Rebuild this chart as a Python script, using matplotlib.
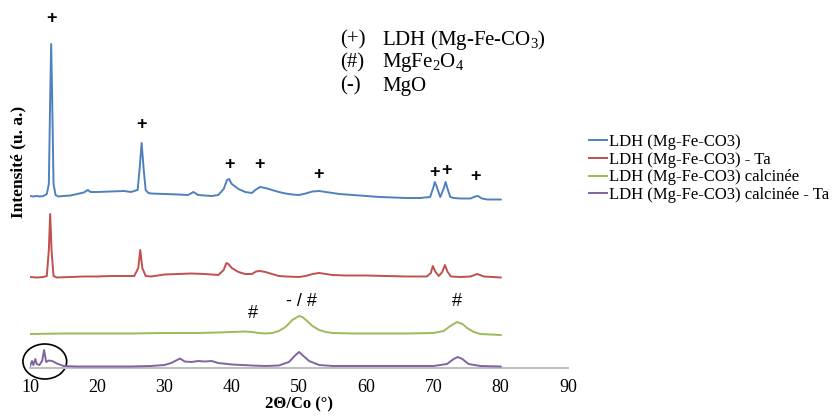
import matplotlib.pyplot as plt
from matplotlib.patches import Ellipse
import numpy as np
from matplotlib import rcParams

rcParams['font.family'] = 'serif'
rcParams['font.serif'] = ['Liberation Serif', 'DejaVu Serif']
rcParams['mathtext.fontset'] = 'custom'
rcParams['mathtext.rm'] = 'Liberation Serif'
rcParams['mathtext.it'] = 'Liberation Serif:italic'

### Diffractogrammes (2theta en deg, intensite en u.a.) ###
tt_ldh = [10.0, 10.5, 11.0, 11.5, 12.0, 12.5, 12.8, 13.0, 13.15, 13.3, 13.5, 13.8, 14.2, 15.0, 16.0, 17.0,
          18.0, 18.6, 19.0, 20.0, 22.0, 24.0, 25.0, 26.0, 26.3, 26.6, 26.9, 27.2, 27.6, 28.0, 30.0, 32.0,
          33.5, 34.3, 35.0, 36.0, 37.0, 38.0, 38.8, 39.3, 39.6, 40.0, 41.0, 42.0, 43.0, 43.5, 44.2, 45.0,
          46.0, 47.0, 48.0, 49.0, 50.0, 51.0, 52.0, 53.0, 54.0, 55.0, 56.0, 58.0, 60.0, 62.0, 64.0, 66.0,
          68.0, 69.5, 70.0, 70.2, 70.5, 71.0, 71.5, 71.8, 72.1, 72.5, 73.0, 74.0, 75.5, 76.2, 76.6, 77.2,
          78.0, 79.0, 80.0]
i_ldh = [1.0, 0.5, 1.0, 0.5, 1.0, 3.0, 13.0, 98.0, 153.0, 98.0, 13.0, 2.0, 0.5, 1.0, 1.5, 3.0,
         4.5, 7.0, 5.0, 5.0, 5.5, 6.0, 5.0, 7.0, 28.0, 54.0, 28.0, 7.0, 4.0, 3.5, 3.0, 2.5,
         2.0, 5.0, 2.0, 1.5, 1.0, 2.0, 8.0, 17.0, 18.0, 13.0, 8.0, 5.0, 4.0, 7.0, 10.0, 9.0,
         7.0, 5.0, 3.5, 2.5, 2.0, 3.5, 5.5, 6.0, 5.0, 4.0, 3.0, 2.0, 1.0, 0.0, -0.5, -1.0,
         -1.0, 0.0, 10.0, 15.0, 10.0, 0.0, 8.0, 15.0, 8.0, 0.0, -1.0, -1.5, -1.5, 0.5, 1.0, -1.5,
         -2.5, -2.5, -2.5]

tt_ta = [10.0, 11.0, 12.0, 12.5, 12.8, 13.0, 13.2, 13.5, 14.0, 16.0, 18.0, 20.0, 22.0, 24.0, 25.5, 26.1,
         26.4, 26.7, 27.2, 28.0, 30.0, 32.0, 34.0, 36.0, 38.0, 38.8, 39.2, 39.5, 40.0, 41.0, 42.0, 43.0,
         43.6, 44.2, 45.0, 46.0, 47.0, 48.0, 50.0, 51.0, 52.0, 53.0, 54.0, 55.0, 57.0, 60.0, 63.0, 66.0,
         69.0, 69.6, 69.9, 70.3, 70.8, 71.3, 71.7, 72.1, 72.6, 74.0, 75.5, 76.5, 77.5, 80.0]
i_ta = [0.0, -0.5, 0.0, 1.0, 27.0, 63.0, 27.0, 1.0, -0.5, 0.0, 0.5, 0.5, 1.0, 1.0, 1.0, 9.0,
        27.0, 9.0, 1.0, 0.5, 2.5, 3.0, 3.5, 3.0, 2.0, 7.0, 14.0, 13.0, 9.0, 5.0, 3.0, 3.0,
        5.5, 6.0, 5.0, 3.0, 1.0, 0.5, 0.0, 1.0, 3.0, 4.0, 3.0, 2.0, 1.5, 1.5, 1.0, 0.5,
        0.5, 4.0, 11.0, 5.0, 1.0, 5.0, 12.0, 5.0, 0.5, 0.0, 0.5, 3.0, 0.5, -0.5]

tt_calc = [10.0, 15.0, 20.0, 25.0, 30.0, 35.0, 38.0, 40.0, 42.0, 43.0, 44.0, 45.0, 46.0, 47.0, 48.0, 49.0,
           50.0, 50.5, 51.2, 52.0, 53.0, 54.0, 55.0, 58.0, 62.0, 66.0, 70.0, 71.5, 72.5, 73.5, 74.3, 75.0,
           76.0, 77.0, 80.0]
i_calc = [0.0, 0.5, 0.5, 0.5, 1.0, 1.0, 1.5, 2.0, 2.5, 2.0, 1.0, 0.5, 1.0, 3.0, 7.0, 14.0,
          18.0, 17.0, 13.0, 8.0, 4.0, 2.0, 1.0, 0.5, 0.5, 0.5, 1.0, 3.0, 8.0, 12.0, 10.0, 6.0,
          2.0, 0.0, -1.0]

tt_calc_ta = [10.0, 10.3, 10.5, 10.8, 11.0, 11.4, 11.8, 12.1, 12.4, 12.8, 13.3, 14.0, 15.0, 17.0, 20.0, 25.0,
              28.0, 30.0, 31.0, 32.3, 33.0, 34.0, 35.0, 36.0, 37.0, 38.0, 40.0, 43.0, 45.0, 47.0, 48.5, 49.5,
              50.0, 50.5, 51.5, 53.0, 55.0, 60.0, 65.0, 70.0, 72.0, 73.0, 73.6, 74.3, 75.2, 77.0, 80.0]
i_calc_ta = [1.0, 6.0, 2.0, 8.0, 3.0, 2.0, 6.0, 17.0, 5.0, 6.5, 6.0, 3.5, 1.0, 0.5, 0.5, 0.5,
             1.0, 2.0, 4.0, 8.5, 5.5, 5.0, 6.0, 5.5, 6.0, 4.0, 2.5, 1.5, 1.0, 1.5, 5.0, 12.0,
             15.0, 12.0, 6.0, 2.0, 1.0, 1.0, 1.0, 1.0, 3.0, 8.0, 10.0, 8.0, 3.0, 1.0, 0.5]

labels = ['LDH (Mg-Fe-CO3)', 'LDH (Mg-Fe-CO3) - Ta', 'LDH (Mg-Fe-CO3) calcinée', 'LDH (Mg-Fe-CO3) calcinée - Ta']
couleurs = ['#4F81BD', '#C0504D', '#9BBB59', '#8064A2']
decalages = [171, 91, 34, 1]   # décalage vertical de chaque courbe

### pics indexés ###
pics_plus = [13.2, 26.6, 39.7, 44.1, 52.9, 70.1, 72.0, 76.3]
h_plus = [350, 243, 203, 203, 193, 195, 197, 191]
pics_diese = [(43.2, 55, '#'), (50.3, 66, '- / #'), (73.5, 66, '#')]

fig = plt.figure(figsize=(8.37, 4.17), dpi=100)
ax = fig.add_axes([30/837, 49/417, 538/837, 358/417])

courbes = [(tt_ldh, i_ldh), (tt_ta, i_ta), (tt_calc, i_calc), (tt_calc_ta, i_calc_ta)]
for n in range(len(courbes)):
    x, y = courbes[n]
    ax.plot(x, np.array(y) + decalages[n], color=couleurs[n], lw=1.4, label=labels[n], zorder=3)

for p, h in zip(pics_plus, h_plus):
    ax.text(p, h, '+', ha='center', va='center', fontsize=13, family='Liberation Sans', fontweight='bold')
for p, h, s in pics_diese:
    ax.text(p, h, s, ha='center', va='center', fontsize=13, family='Liberation Sans')

# cercle autour des pics à bas angle
ax.add_patch(Ellipse((12.2, 6.5), 6.5, 35, fill=False, color='k', lw=1.2, clip_on=False))

ax.set_xlim(10, 90)
ax.set_ylim(0, 358)
ax.set_xticks(np.arange(10, 91, 10))
ax.set_yticks([])
for s in ['top', 'right', 'left']:
    ax.spines[s].set_visible(False)
ax.spines['bottom'].set_color('#BFBFBF')
ax.spines['bottom'].set_linewidth(1.5)
ax.tick_params(axis='x', length=0, pad=8, labelsize=13)
ax.set_xlabel('2Θ/Co (°)', fontweight='bold', fontsize=12, labelpad=0)
fig.text(18/837, 1 - 162/417, 'Intensité (u. a.)', rotation=90, ha='center', va='center',
         fontweight='bold', fontsize=12.5)

fig.text(340/837, 1 - 40/417, '(+)', fontsize=15, va='center')
fig.text(382/837, 1 - 40/417, 'LDH (Mg-Fe-CO$_3$)', fontsize=15, va='center')
fig.text(340/837, 1 - 63/417, '(#)', fontsize=15, va='center')
fig.text(382/837, 1 - 63/417, 'MgFe$_2$O$_4$', fontsize=15, va='center')
fig.text(340/837, 1 - 86/417, '(-)', fontsize=15, va='center')
fig.text(382/837, 1 - 86/417, 'MgO', fontsize=15, va='center')

fig.legend(loc='upper left', bbox_to_anchor=(589/837, 1 - 134/417), frameon=False, fontsize=12,
           handlelength=1.1, handletextpad=0.1, labelspacing=0.1, borderpad=0, borderaxespad=0)

plt.savefig('out.png', dpi=100)
